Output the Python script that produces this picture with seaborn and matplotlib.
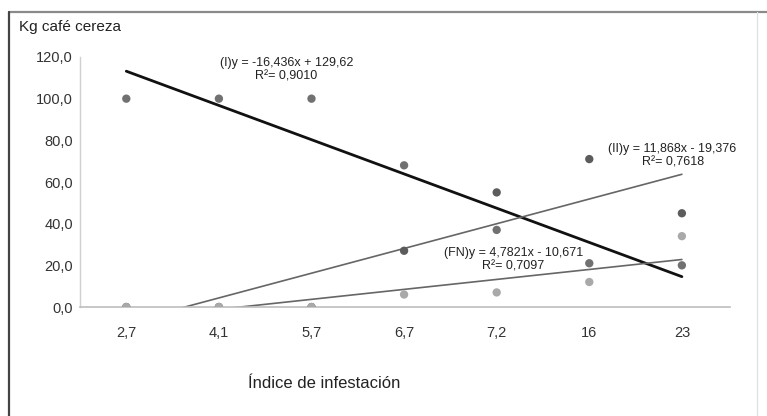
import numpy as np
import pandas as pd
import matplotlib
matplotlib.use("Agg")
import matplotlib.pyplot as plt
from matplotlib.lines import Line2D
import seaborn as sns

categories = ["2,7", "4,1", "5,7", "6,7", "7,2", "16", "23"]
serie_I = [100, 100, 100, 68, 37, 21, 20]
serie_II = [0, 0, 0, 27, 55, 71, 45]
serie_FN = [0, 0, 0, 6, 7, 12, 34]
y_ticks = [0, 20, 40, 60, 80, 100, 120]

# trendline coefficients as printed on the chart (x = 1..7)
slopes = {"I": -16.436, "II": 11.868, "FN": 4.7821}
intercepts = {"I": 129.62, "II": -19.376, "FN": -10.671}
labels = {
    "I": "(I)y = -16,436x + 129,62\nR²= 0,9010",
    "II": "(II)y = 11,868x - 19,376\nR²= 0,7618",
    "FN": "(FN)y = 4,7821x - 10,671\nR²= 0,7097",
}

sns.set_style("white")
plt.rcParams["font.family"] = ["Liberation Sans", "DejaVu Sans"]

df = pd.DataFrame({
    "pos": list(range(7)) * 3,
    "kg": serie_I + serie_II + serie_FN,
    "serie": ["I"] * 7 + ["II"] * 7 + ["FN"] * 7,
})

fig = plt.figure(figsize=(7.67, 4.16), dpi=100)
ax = fig.add_axes([0.1043, 0.262, 0.8475, 0.601])

palette = {"I": "#717171", "II": "#5c5c5c", "FN": "#a9a9a9"}
sns.scatterplot(data=df, x="pos", y="kg", hue="serie", palette=palette,
                s=36, edgecolor="none", legend=False, ax=ax, zorder=3)

xs = np.linspace(0, 6, 200)
styles = {"I": ("#111111", 2.0), "II": ("#666666", 1.2), "FN": ("#666666", 1.2)}
for k in ["I", "II", "FN"]:
    ys = slopes[k] * (xs + 1) + intercepts[k]
    col, lw = styles[k]
    ax.plot(xs, ys, color=col, lw=lw, zorder=2)

ann_pos = {"I": (1.73, 114), "II": (5.9, 72.5), "FN": (4.18, 22.6)}
for k, (px, py) in ann_pos.items():
    ax.text(px, py, labels[k], ha="center", va="center", fontsize=9,
            color="#222222", linespacing=1.2, zorder=4)

ax.set_xlim(-0.5, 6.52)
ax.set_ylim(0, 120)
ax.set_xticks(range(7))
ax.set_xticklabels(categories)
ax.set_yticks(y_ticks)
ax.set_yticklabels([f"{v:.1f}".replace(".", ",") for v in y_ticks])
ax.tick_params(axis="both", length=0, labelsize=10.5, labelcolor="#333333")
ax.tick_params(axis="x", pad=14)
ax.tick_params(axis="y", pad=5)
ax.set_xlabel("")
ax.set_ylabel("")
for side in ["top", "right"]:
    ax.spines[side].set_visible(False)
ax.spines["left"].set_color("#d0d0d0")
ax.spines["bottom"].set_color("#bdbdbd")
ax.spines["left"].set_linewidth(1.0)
ax.spines["bottom"].set_linewidth(1.2)
ax.patch.set_alpha(0)

fig.text(19 / 767, 1 - 27 / 416, "Kg café cereza", fontsize=11, color="#222222",
         ha="left", va="center")
fig.text(248 / 767, 1 - 383 / 416, "Índice de infestación", fontsize=12,
         color="#222222", ha="left", va="center")

# outer frame
fig.add_artist(Line2D([9 / 767, 1], [1 - 12 / 416] * 2, color="#8a8a8a", lw=1.6))
fig.add_artist(Line2D([9 / 767] * 2, [0, 1 - 12 / 416], color="#444444", lw=1.6))
fig.add_artist(Line2D([757 / 767] * 2, [0, 1 - 12 / 416], color="#e2e2e2", lw=1.0))

fig.savefig("out.png", dpi=100)
